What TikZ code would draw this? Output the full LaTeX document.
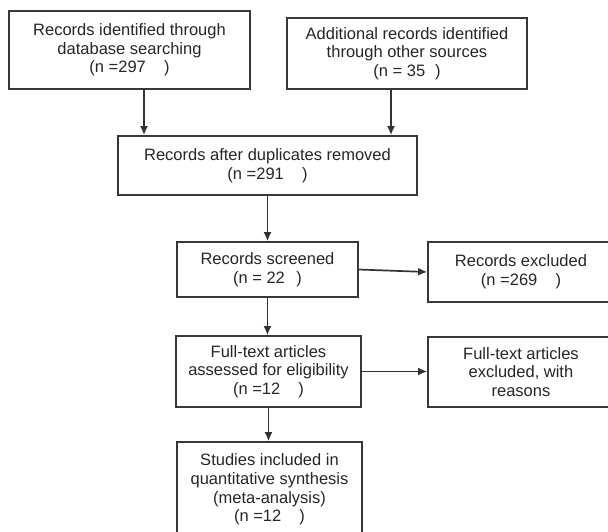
\documentclass[tikz,border=0pt]{standalone}
\usepackage{fontspec}
\setmainfont{Liberation Sans}
\usepackage{tikz}
\usetikzlibrary{arrows.meta}
\usepackage{xcolor}

\tikzset{
    box/.style={draw=black!78, line width=1.7pt, align=center, text=black!85,
        font=\fontsize{16.5}{18.6}\selectfont, inner sep=0pt},
    arr/.style={draw=black!80, line width=1.7pt, -{Latex[length=9pt,width=8pt]}}
}

\begin{document}
\begin{tikzpicture}[x=1pt, y=-1pt]
        % Frame
        \useasboundingbox (0,0) rectangle (608,531);
        \clip (0,0) rectangle (608,531);
        % Identification
        \node[box, minimum width=241pt, minimum height=78pt] (ident) at (129.5,50)
            {Records identified through\\database searching\\(n =297\hspace{1.1em})};
        \node[box, minimum width=240pt, minimum height=71pt] (other) at (407,53.5)
            {Additional records identified\\through other sources\\(n = 35\hspace{0.6em})};
        % Duplicates
        \node[box, minimum width=299pt, minimum height=59pt] (dupl) at (267.5,165.5)
            {Records after duplicates removed\\(n =291\hspace{1.1em})};
        % Screening
        \node[box, minimum width=181pt, minimum height=55pt] (screen) at (267.5,269.5)
            {Records screened\\(n = 22\hspace{0.7em})};
        \node[box, minimum width=186pt, minimum height=60pt] (exclrec) at (521,272)
            {Records excluded\\(n =269\hspace{1.1em})};
        % Eligibility
        \node[box, minimum width=185pt, minimum height=71pt] (fulltext) at (268.5,371.5)
            {Full-text articles\\assessed for eligibility\\(n =12\hspace{1.1em})};
        \node[box, minimum width=186pt, minimum height=70pt] (exclfull) at (521,372)
            {Full-text articles\\excluded, with\\reasons};
        % Included
        \node[box, minimum width=185pt, minimum height=95pt] (incl) at (269.5,489.5)
            {Studies included in\\quantitative synthesis\\(meta-analysis)\\(n =12\hspace{1.1em})};
        % Arrows
        \draw[arr] ([xshift=14.5pt]ident.south) -- ([xshift=14.5pt]ident.south |- dupl.north);
        \draw[arr] ([xshift=-16pt]other.south) -- ([xshift=-16pt]other.south |- dupl.north);
        \draw[arr] (dupl.south) -- (dupl.south |- screen.north);
        \draw[arr] (screen.east) -- (exclrec.west);
        \draw[arr] (screen.south) -- (screen.south |- fulltext.north);
        \draw[arr] (fulltext.east) -- (fulltext.east -| exclfull.west);
        \draw[arr] (fulltext.south) -- (fulltext.south |- incl.north);
    \end{tikzpicture}
\end{document}
